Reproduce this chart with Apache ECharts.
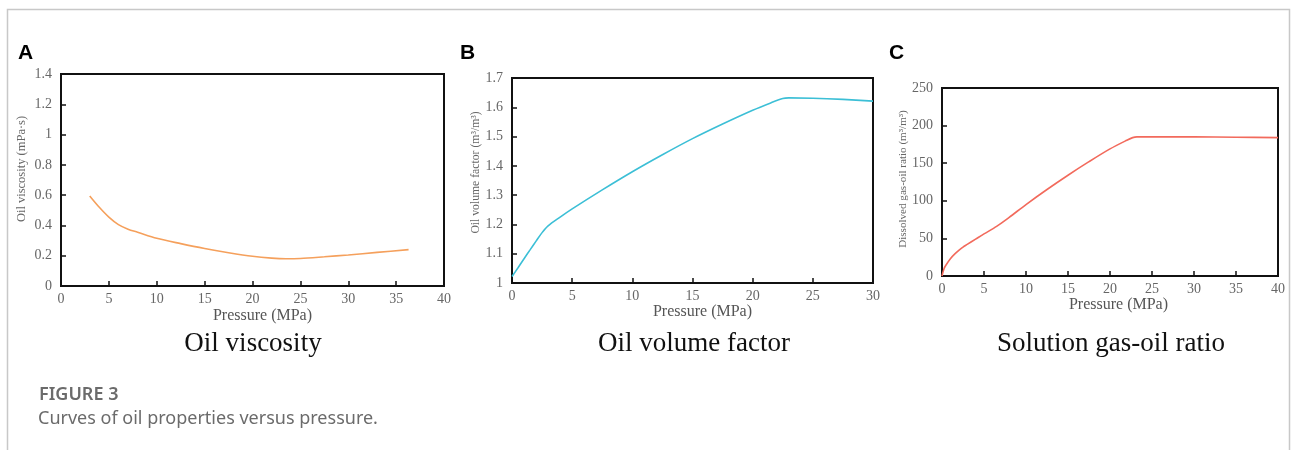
<!DOCTYPE html>
<html><head><meta charset="utf-8">
<script src="https://cdn.jsdelivr.net/npm/echarts@6/dist/echarts.min.js"></script>
<style>html,body{margin:0;padding:0;background:#fff}#c{width:1293px;height:450px}</style>
</head><body><div id="c"></div>
<script>
// Panel A: oil viscosity
const pressureA = [3, 4, 5, 6, 7, 8, 10, 12.5, 15, 17.5, 20, 22, 23.5, 25, 27.5, 30, 33, 36.3];
const viscosity = [0.595, 0.52, 0.455, 0.405, 0.375, 0.355, 0.315, 0.28, 0.248, 0.22, 0.196, 0.184, 0.18, 0.182, 0.193, 0.205, 0.222, 0.24];
// Panel B: oil volume factor
const pressureB = [0, 0.5, 1, 1.5, 2, 2.5, 3, 4, 5, 7.5, 10, 12.5, 15, 17.5, 20, 21.5, 22.5, 23, 25, 27.5, 30];
const volumeFactor = [1.022, 1.052, 1.083, 1.113, 1.143, 1.172, 1.195, 1.225, 1.253, 1.318, 1.38, 1.438, 1.493, 1.543, 1.59, 1.615, 1.63, 1.632, 1.631, 1.627, 1.621];
// Panel C: solution gas-oil ratio
const pressureC = [0, 0.25, 0.5, 1, 1.5, 2, 2.5, 3, 4, 5, 6.5, 8, 10, 12.5, 15, 17.5, 20, 22, 22.7, 23.2, 25, 30, 35, 40];
const gasOilRatio = [0, 10, 15, 23, 29, 34, 38.5, 42, 49, 56, 66, 78, 95, 115, 134, 152, 169, 180.5, 184, 185, 185, 185, 184.5, 184];
// Tick settings
const xTicksA = {min: 0, max: 40, interval: 5};
const yTicksA = {min: 0, max: 1.4, interval: 0.2};
const xTicksB = {min: 0, max: 30, interval: 5};
const yTicksB = {min: 1, max: 1.7, interval: 0.1};
const xTicksC = {min: 0, max: 40, interval: 5};
const yTicksC = {min: 0, max: 250, interval: 50};
const panelLetters = ['A', 'B', 'C'];
const panelTitles = ['Oil viscosity', 'Oil volume factor', 'Solution gas-oil ratio'];
const yNames = ['Oil viscosity (mPa·s)', 'Oil volume factor (m³/m³)', 'Dissolved gas-oil ratio (m³/m³)'];
const xName = 'Pressure (MPa)';

const zip = (a, b) => a.map((v, i) => [v, b[i]]);
const serif = 'Liberation Serif';
const grids = [
  {left: 61, top: 74, width: 383, height: 212},
  {left: 512, top: 78, width: 361, height: 205},
  {left: 942, top: 88, width: 336, height: 188}
];
function xAxis(i, t, gap, shift) {
  return {type: 'value', gridIndex: i, min: t.min, max: t.max, interval: t.interval,
    name: xName, nameLocation: 'middle', nameGap: gap,
    nameTextStyle: {fontFamily: serif, fontSize: 16, color: '#555', padding: [0, 0, 0, shift]},
    axisLine: {lineStyle: {color: '#111', width: 2}},
    axisTick: {inside: true, length: 5, lineStyle: {color: '#111', width: 1.5}},
    axisLabel: {fontFamily: serif, fontSize: 14, color: '#666', margin: 6},
    splitLine: {show: false}};
}
function yAxis(i, t, gap, size, shift) {
  return {type: 'value', gridIndex: i, min: t.min, max: t.max, interval: t.interval,
    name: yNames[i], nameLocation: 'middle', nameGap: gap,
    nameTextStyle: {fontFamily: serif, fontSize: size, color: '#666', padding: [0, 0, 0, shift]},
    axisLine: {lineStyle: {color: '#111', width: 2}},
    axisTick: {inside: true, length: 5, lineStyle: {color: '#111', width: 1.5}},
    axisLabel: {fontFamily: serif, fontSize: 14, color: '#666', margin: 9},
    splitLine: {show: false}};
}
const lineColors = ['#f5a05c', '#3cbfd6', '#f26a5c'];
const datasets = [zip(pressureA, viscosity), zip(pressureB, volumeFactor), zip(pressureC, gasOilRatio)];
const series = datasets.map((d, i) => ({type: 'line', xAxisIndex: i, yAxisIndex: i, data: d,
  showSymbol: false, smooth: 0.3, lineStyle: {color: lineColors[i], width: 1.6}}));

const letterPos = [[18, 43], [460, 43], [889, 43]];
const titleCenters = [253, 694, 1111];
const graphic = [
  {type: 'rect', shape: {x: 7.5, y: 9.5, width: 1282, height: 460}, style: {fill: 'none', stroke: '#c8c8c8', lineWidth: 1.5}, silent: true}
];
panelLetters.forEach((l, i) => graphic.push({type: 'text', left: letterPos[i][0], top: letterPos[i][1],
  style: {text: l, font: 'bold 21px "Liberation Sans", Arial', fill: '#000'}}));
panelTitles.forEach((t, i) => graphic.push({type: 'text', x: titleCenters[i], y: 344,
  style: {text: t, font: '27px "Liberation Serif"', fill: '#111', textAlign: 'center', textVerticalAlign: 'middle'}}));
graphic.push({type: 'text', x: 39, y: 395, style: {text: 'FIGURE 3', font: '600 18px "Noto Sans"', fill: '#6b6b6b', textVerticalAlign: 'middle'}});
graphic.push({type: 'text', x: 38, y: 419, style: {text: 'Curves of oil properties versus pressure.', font: '18px "Noto Sans"', fill: '#6b6b6b', textVerticalAlign: 'middle'}});

const gridOpts = grids.map(g => Object.assign({show: true, borderColor: '#111', borderWidth: 2, backgroundColor: 'transparent'}, g));

const chart = echarts.init(document.getElementById('c'));
chart.setOption({
  animation: false,
  grid: gridOpts,
  xAxis: [xAxis(0, xTicksA, 22, 20), xAxis(1, xTicksB, 21, 20), xAxis(2, xTicksC, 18, 17)],
  yAxis: [yAxis(0, yTicksA, 33, 12.5, 22), yAxis(1, yTicksB, 30, 11.7, 16), yAxis(2, yTicksC, 32, 11.1, 6)],
  series: series,
  graphic: graphic
});
</script></body></html>
